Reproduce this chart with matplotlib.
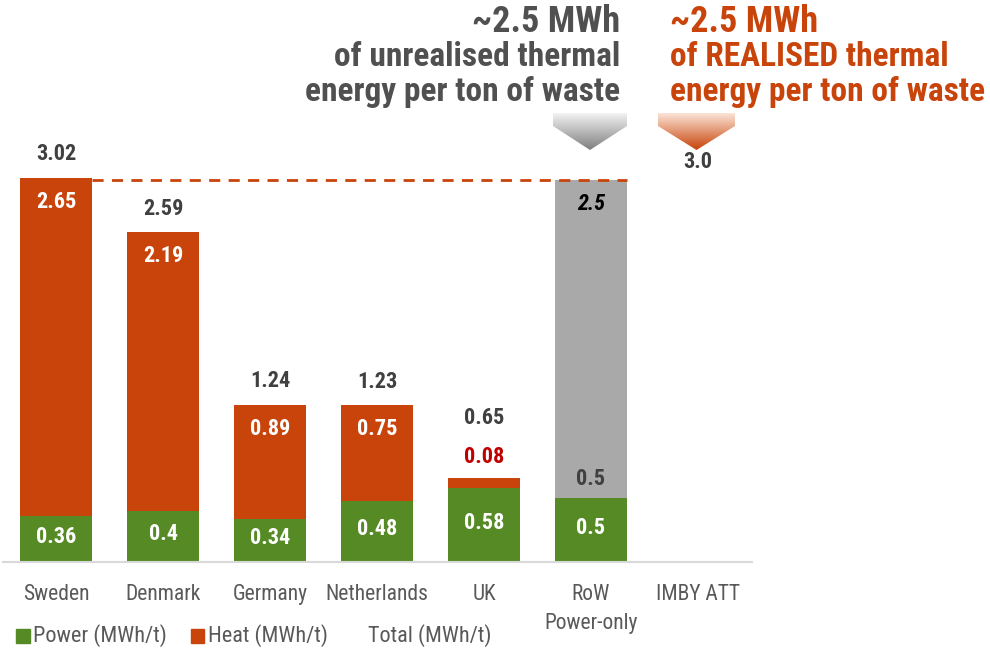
import numpy as np
import matplotlib
matplotlib.use('Agg')
import matplotlib.pyplot as plt
from matplotlib.patches import Polygon, Rectangle
from matplotlib.colors import LinearSegmentedColormap

plt.rcParams['font.family'] = ['Roboto Condensed', 'DejaVu Sans']

# datos
paises = ['Sweden', 'Denmark', 'Germany', 'Netherlands', 'UK', 'RoW\nPower-only', 'IMBY ATT']
power = [0.36, 0.4, 0.34, 0.48, 0.58, 0.5, 0.0]
heat = [2.65, 2.19, 0.89, 0.75, 0.08, 0.0, 0.0]
total = [3.02, 2.59, 1.24, 1.23, 0.65, 0.5, 3.0]
no_usado = [0, 0, 0, 0, 0, 2.5, 0]

VERDE = '#558A25'
NARANJA = '#C8440A'
GRIS = '#A9A9A9'
OSCURO = '#404040'

W, H = 990, 649
fig = plt.figure(figsize=(W / 100, H / 100), dpi=100)

# ejes principales en pixeles: base en y=562, 127.5 px por unidad
x0, x1 = 2.5, 751.5
ybase = 562
ax = fig.add_axes([x0 / W, (H - ybase) / H, (x1 - x0) / W, ybase / H])
ax.set_xlim(-0.5, 6.5)
ax.set_ylim(0, ybase / 127.5)

x = np.arange(len(paises))
ancho = 0.67
ax.bar(x, power, ancho, color=VERDE)
ax.bar(x, heat, ancho, bottom=power, color=NARANJA)
ax.bar(x, no_usado, ancho, bottom=power, color=GRIS)

for s in ['top', 'right', 'left']:
    ax.spines[s].set_visible(False)
ax.spines['bottom'].set_color('#D9D9D9')
ax.spines['bottom'].set_linewidth(1.5)
ax.set_yticks([])
ax.set_xticks(x)
ax.set_xticklabels(paises, fontsize=15.5, color='#595959', linespacing=1.55, va='top')
ax.tick_params(axis='x', length=0, pad=15.5)

# linea punteada al nivel de 3.0
ax.plot([0 + ancho / 2, 5 + ancho / 2], [3.0, 3.0], ls=(0, (4, 3)), color=NARANJA, lw=2)

off = 1 / 127.5  # un pixel en unidades de datos
for i in range(5):
    # etiqueta de potencia (centrada en el segmento)
    ax.text(i, power[i] / 2 + 2 * off, '{:g}'.format(power[i]), ha='center', va='center',
            color='white', fontsize=16, fontweight='bold')
    if i < 4:
        ax.text(i, power[i] + heat[i] - 24 * off, '{:g}'.format(heat[i]), ha='center', va='center',
                color='white', fontsize=16, fontweight='bold')
        ax.text(i, total[i] + 23 * off, '{:g}'.format(total[i]), ha='center', va='center',
                color=OSCURO, fontsize=16, fontweight='bold')
# UK
ax.text(4, total[4] + 22 * off, '0.08', ha='center', va='center',
        color='#C00000', fontsize=16, fontweight='bold')
ax.text(4, total[4] + 61 * off, '{:g}'.format(total[4]), ha='center', va='center',
        color=OSCURO, fontsize=16, fontweight='bold')
# RoW
ax.text(5, power[5] / 2 + 2 * off, '0.5', ha='center', va='center',
        color='white', fontsize=16, fontweight='bold')
ax.text(5, power[5] + 19 * off, '0.5', ha='center', va='center',
        color=OSCURO, fontsize=16, fontweight='bold')
ax.text(5, power[5] + no_usado[5] - 24 * off, '2.5', ha='center', va='center',
        color='black', fontsize=16, fontweight='bold', style='italic')
# IMBY
ax.text(6, total[6] + 17 * off, '3.0', ha='center', va='center',
        color=OSCURO, fontsize=16, fontweight='bold')

# capa superior en pixeles para titulos, flechas y leyenda
ov = fig.add_axes([0, 0, 1, 1], zorder=5)
ov.set_xlim(0, W)
ov.set_ylim(H, 0)
ov.axis('off')
ov.patch.set_alpha(0)

ov.text(620, 22, '~2.5 MWh', ha='right', va='center', fontsize=26, fontweight='bold', color='#505050')
ov.text(620, 57, 'of unrealised thermal', ha='right', va='center', fontsize=24, fontweight='bold', color='#505050')
ov.text(620, 92, 'energy per ton of waste', ha='right', va='center', fontsize=24, fontweight='bold', color='#505050')
ov.text(670, 22, '~2.5 MWh', ha='left', va='center', fontsize=26, fontweight='bold', color=NARANJA)
ov.text(670, 57, 'of REALISED thermal', ha='left', va='center', fontsize=24, fontweight='bold', color=NARANJA)
ov.text(670, 92, 'energy per ton of waste', ha='left', va='center', fontsize=24, fontweight='bold', color=NARANJA)


def flecha(xl, xr, c_arriba, c_abajo):
    xm = (xl + xr) / 2
    pts = [(xl, 113), (xr, 113), (xr, 126), (xm, 150), (xl, 126)]
    poly = Polygon(pts, closed=True, facecolor='none', edgecolor='none')
    ov.add_patch(poly)
    cmap = LinearSegmentedColormap.from_list('g', [c_arriba, c_abajo])
    grad = np.linspace(0, 1, 64).reshape(-1, 1)
    im = ov.imshow(grad, cmap=cmap, extent=[xl, xr, 150, 113], aspect='auto', origin='upper')
    im.set_clip_path(poly)


flecha(553, 627, '#F2F2F2', '#7F7F7F')
flecha(658, 735, '#FBE3D6', NARANJA)
ov.set_xlim(0, W)
ov.set_ylim(H, 0)

# leyenda
ov.add_patch(Rectangle((16, 629), 14, 14, color=VERDE))
ov.text(33, 636, 'Power (MWh/t)', va='center', ha='left', fontsize=16, color='#595959')
ov.add_patch(Rectangle((191, 629), 13, 14, color=NARANJA))
ov.text(208, 636, 'Heat (MWh/t)', va='center', ha='left', fontsize=16, color='#595959')
ov.text(368, 636, 'Total (MWh/t)', va='center', ha='left', fontsize=16, color='#595959')

plt.savefig('out.png', dpi=100)
plt.close()
